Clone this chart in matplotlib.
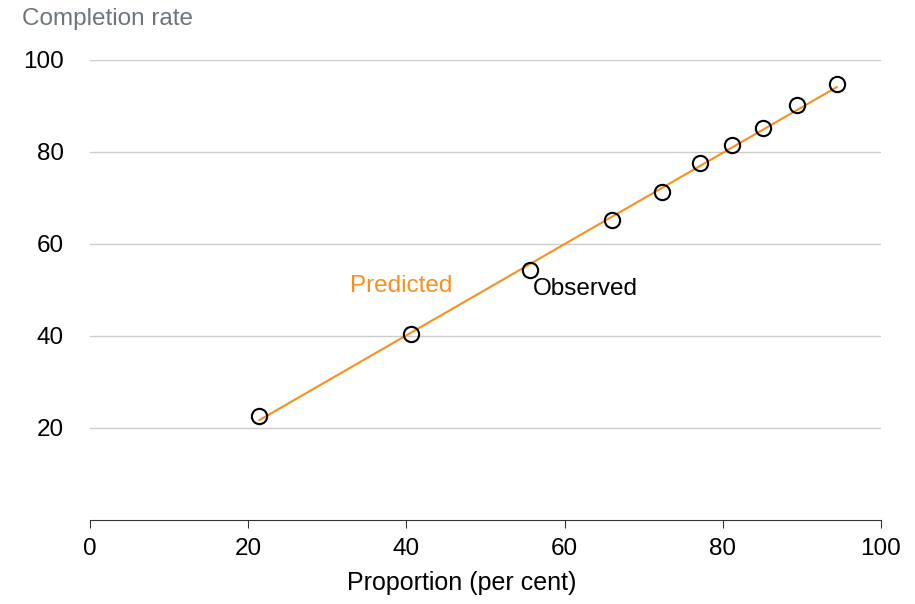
import matplotlib
matplotlib.use("Agg")
import matplotlib.pyplot as plt

plt.rcParams["font.family"] = ["Liberation Sans", "DejaVu Sans"]

# observed points (proportion, completion rate)
obs_x = [21.4, 40.6, 55.6, 66.0, 72.3, 77.1, 81.2, 85.1, 89.4, 94.4]
obs_y = [22.6, 40.4, 54.3, 65.3, 71.2, 77.7, 81.6, 85.3, 90.2, 94.8]

# predicted line endpoints
pred_x = [21.4, 94.4]
pred_y = [21.7, 94.1]

xticks = [0, 20, 40, 60, 80, 100]
yticks = [20, 40, 60, 80, 100]

ORANGE = "#f7901e"
FS = 17.5

fig = plt.figure(figsize=(9.15, 6.04), dpi=100)
ax = fig.add_axes([90 / 915, 1 - 520 / 604, 791 / 915, 460 / 604])

ax.plot(pred_x, pred_y, color=ORANGE, lw=1.5, zorder=2)
ax.plot(obs_x, obs_y, ls="none", marker="o", ms=11, mfc="none",
        mec="black", mew=1.5, zorder=3)

ax.set_xlim(0, 100)
ax.set_ylim(0, 100)
ax.set_xticks(xticks)
ax.set_yticks(yticks)
ax.grid(axis="y", color="#cccccc", lw=1)
ax.set_axisbelow(True)

for s in ("top", "right", "left"):
    ax.spines[s].set_visible(False)
ax.spines["bottom"].set_color("#333333")
ax.tick_params(axis="y", length=0, pad=19, labelsize=FS)
ax.tick_params(axis="x", length=6, color="#333333", pad=7, labelsize=FS)

# x label sits centred on the figure, not the axes
fig.text(462 / 915, 1 - 583 / 604, "Proportion (per cent)", fontsize=18,
         ha="center", va="center")
fig.text(22 / 915, 1 - 19 / 604, "Completion rate", fontsize=FS,
         color="#6c757d", ha="left", va="center")

ax.text(32.9, 50.8, "Predicted", color=ORANGE, fontsize=FS, ha="left", va="center")
ax.text(56.0, 50.2, "Observed", color="black", fontsize=FS, ha="left", va="center")

fig.savefig("out.png", dpi=100)
